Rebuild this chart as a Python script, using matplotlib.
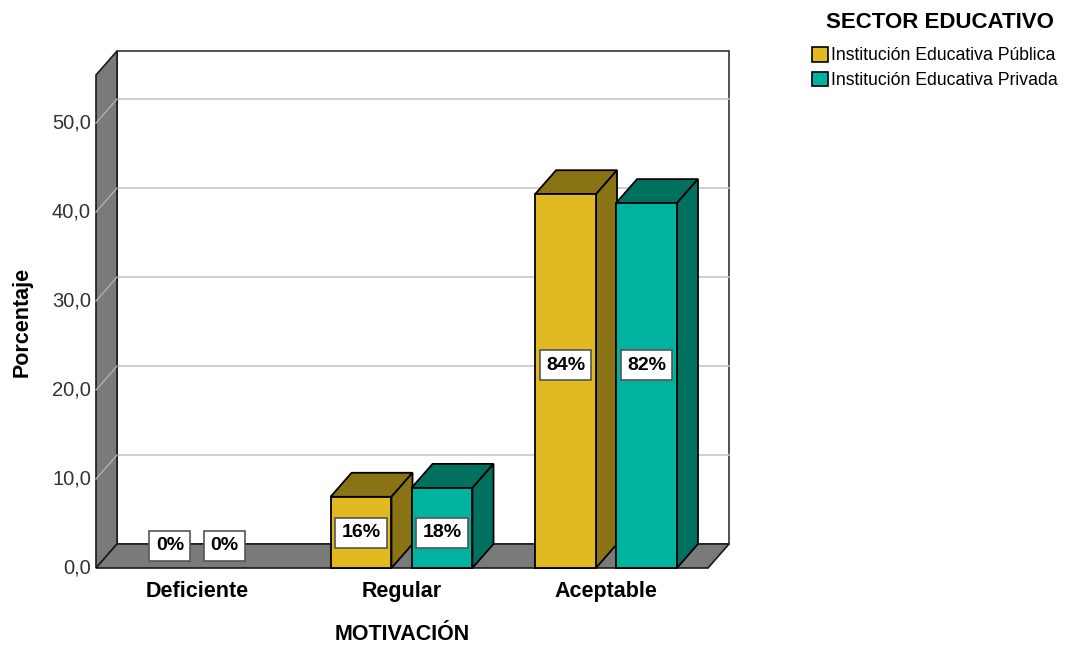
import matplotlib
matplotlib.use("Agg")
import matplotlib.pyplot as plt
from matplotlib.patches import Polygon, Rectangle, Patch

plt.rcParams['font.family'] = ['Liberation Sans', 'DejaVu Sans']

categories = ["Deficiente", "Regular", "Aceptable"]
series_names = ["Institución Educativa Pública", "Institución Educativa Privada"]
pct_publica = [0, 16, 84]     # % within each sector
pct_privada = [0, 18, 82]
sector_share = [50.0, 50.0]   # share of the whole sample per sector
yticks = [0, 10, 20, 30, 40, 50]

front_colors = ["#E1B920", "#00B3A0"]
dark_colors = ["#8A7315", "#00705F"]
wall_gray = "#7A7A7A"

# bar height = percentage of the whole sample
series_pct = [pct_publica, pct_privada]
heights = [[p * sector_share[i] / 100.0 for p in series_pct[i]] for i in range(2)]

X0, X1 = -0.494, 2.499
YTOP = 55.4
DX, DY = 0.103, 2.7   # depth offset of the 3D box
BAR_W = 0.298
OFFSETS = [-0.198, 0.198]

fig = plt.figure(figsize=(10.68, 6.49), dpi=100)
ax = fig.add_axes([96 / 1068, 81 / 649, 612 / 1068, 493 / 649])
ax.set_xlim(X0, X1)
ax.set_ylim(0, YTOP)
ax.axis("off")

def poly(pts, fc, ec="black", lw=1.0, z=1):
    ax.add_patch(Polygon(pts, closed=True, facecolor=fc, edgecolor=ec,
                         linewidth=lw, zorder=z, clip_on=False,
                         joinstyle="miter"))

# back wall
poly([(X0 + DX, DY), (X1 + DX, DY), (X1 + DX, YTOP + DY), (X0 + DX, YTOP + DY)],
     "white", ec="#333333", lw=1.2, z=1)
for v in yticks[1:]:
    ax.plot([X0 + DX, X1 + DX], [v + DY, v + DY], color="#C8C8C8", lw=1.2,
            zorder=2, clip_on=False)

# left wall and floor
poly([(X0, 0), (X0 + DX, DY), (X0 + DX, YTOP + DY), (X0, YTOP)], wall_gray,
     ec="#1A1A1A", lw=1.2, z=3)
poly([(X0, 0), (X1, 0), (X1 + DX, DY), (X0 + DX, DY)], wall_gray,
     ec="#1A1A1A", lw=1.2, z=3)
for v in yticks[1:]:
    ax.plot([X0, X0 + DX], [v, v + DY], color="#B0B0B0", lw=1.0, zorder=4,
            clip_on=False)

# bars
for ci in range(len(categories)):
    label_y = max(min(heights[0][ci], heights[1][ci]) * 0.57 - 0.6, 2.5)
    for si in range(2):
        h = heights[si][ci]
        left = ci + OFFSETS[si] - BAR_W / 2
        right = left + BAR_W
        if h > 0:
            z = 5 + ci * 2 + si * 0.5
            poly([(left, h), (right, h), (right + DX, h + DY), (left + DX, h + DY)],
                 dark_colors[si], lw=1.3, z=z)
            poly([(right, 0), (right + DX, DY), (right + DX, h + DY), (right, h)],
                 dark_colors[si], lw=1.3, z=z)
            ax.add_patch(Rectangle((left, 0), BAR_W, h, facecolor=front_colors[si],
                                   edgecolor="black", linewidth=1.3, zorder=z + 0.1,
                                   clip_on=False))
        cx = ci + OFFSETS[si]
        if h == 0:
            cx = ci + OFFSETS[si] * 0.67
        ax.text(cx, label_y, f"{series_pct[si][ci]}%", ha="center", va="center",
                fontsize=14, fontweight="bold", zorder=20,
                bbox=dict(boxstyle="square,pad=0.33", facecolor="white",
                          edgecolor="#555555", linewidth=1.2))

# y tick labels
for v in yticks:
    ax.text(X0 - 0.025, v, f"{v:.1f}".replace(".", ","), ha="right", va="center",
            fontsize=14.5, color="#333333")

# category labels
for ci, name in enumerate(categories):
    ax.text(ci, -2.6, name, ha="center", va="center", fontsize=15.5,
            fontweight="bold")

fig.text(22 / 1068, 1 - 322 / 649, "Porcentaje", rotation=90, ha="center",
         va="center", fontsize=15.5, fontweight="bold")
fig.text(402 / 1068, 1 - 635 / 649, "MOTIVACIÓN", ha="center", va="center",
         fontsize=15.5, fontweight="bold")

# legend
fig.text(940 / 1068, 1 - 22 / 649, "SECTOR EDUCATIVO", ha="center", va="center",
         fontsize=16, fontweight="bold")
handles = [Patch(facecolor=front_colors[i], edgecolor="black", linewidth=1.2)
           for i in range(2)]
fig.legend(handles, series_names, loc="upper left",
           bbox_to_anchor=(812 / 1068, 1 - 47 / 649),
           frameon=False, fontsize=12.7, handlelength=0.9,
           handleheight=0.9, handletextpad=0.2, labelspacing=0.42,
           borderaxespad=0, borderpad=0.0)

fig.savefig("out.png", dpi=100)
